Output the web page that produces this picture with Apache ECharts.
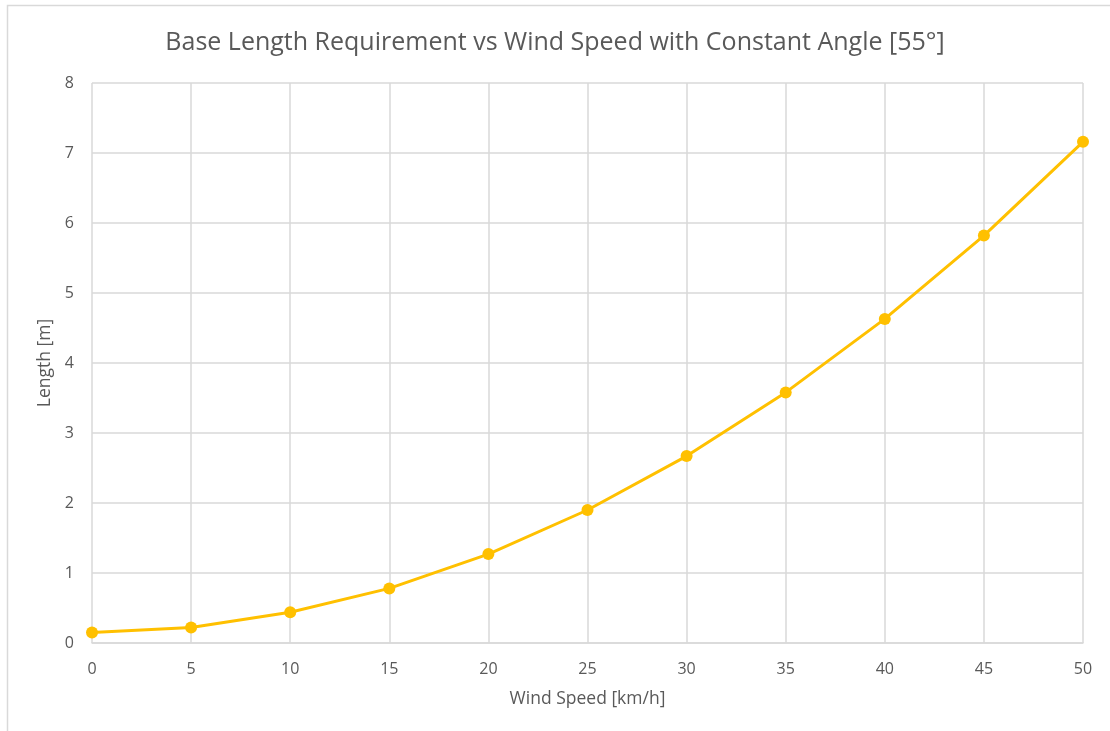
<!DOCTYPE html>
<html>
<head>
<meta charset="utf-8">
<script src="https://cdn.jsdelivr.net/npm/echarts@6/dist/echarts.min.js"></script>
<style>
  html, body { margin: 0; padding: 0; background: #fff; }
  #chart { width: 1110px; height: 731px; }
</style>
</head>
<body>
<div id="chart"></div>
<script>
// Wind speed in km/h and the base length needed at a fixed 55° angle
const windSpeeds = [0, 5, 10, 15, 20, 25, 30, 35, 40, 45, 50];
const baseLengths = [0.15, 0.22, 0.44, 0.78, 1.27, 1.90, 2.67, 3.58, 4.63, 5.82, 7.16];

const titleText = 'Base Length Requirement vs Wind Speed with Constant Angle [55°]';
const xTitle = 'Wind Speed [km/h]';
const yTitle = 'Length [m]';

const font = 'Open Sans, Liberation Sans, sans-serif';
const textColor = '#595959';
const gridColor = '#d9d9d9';

const chart = echarts.init(document.getElementById('chart'), null, { renderer: 'canvas' });

chart.setOption({
  backgroundColor: '#ffffff',
  animation: false,
  title: {
    text: titleText,
    left: 'center',
    top: 25,
    textStyle: { fontFamily: font, fontSize: 25, fontWeight: 'normal', color: textColor }
  },
  graphic: [{
    type: 'rect',
    shape: { x: 7.5, y: 5.5, width: 1110, height: 730 },
    style: { fill: 'none', stroke: gridColor, lineWidth: 1.5 },
    silent: true
  }],
  grid: { left: 92, right: 27, top: 83, bottom: 88 },
  xAxis: {
    type: 'value',
    min: 0,
    max: 50,
    interval: 5,
    name: xTitle,
    nameLocation: 'middle',
    nameGap: 47,
    nameTextStyle: { fontFamily: font, fontSize: 17.5, color: textColor },
    axisLine: { show: true, lineStyle: { color: gridColor, width: 1.5 } },
    axisTick: { show: false },
    axisLabel: { fontFamily: font, fontSize: 16, color: textColor, margin: 18 },
    splitLine: { show: true, lineStyle: { color: gridColor, width: 1.5 } }
  },
  yAxis: {
    type: 'value',
    min: 0,
    max: 8,
    interval: 1,
    name: yTitle,
    nameLocation: 'middle',
    nameGap: 36,
    nameRotate: 90,
    nameTextStyle: { fontFamily: font, fontSize: 17.5, color: textColor },
    axisLine: { show: false },
    axisTick: { show: false },
    axisLabel: { fontFamily: font, fontSize: 16, color: textColor, margin: 18 },
    splitLine: { show: true, lineStyle: { color: gridColor, width: 1.5 } }
  },
  series: [{
    type: 'line',
    data: windSpeeds.map((x, i) => [x, baseLengths[i]]),
    lineStyle: { color: '#FFC000', width: 3 },
    itemStyle: { color: '#FFC000' },
    symbol: 'circle',
    symbolSize: 12,
    showSymbol: true,
    z: 3
  }]
});
</script>
</body>
</html>
